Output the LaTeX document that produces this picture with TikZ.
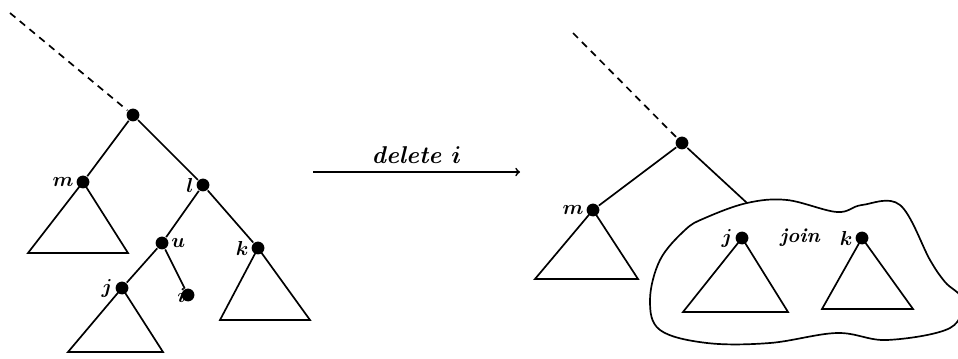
\documentclass[tikz,border=0pt]{standalone}
\usepackage{amsmath}
\usepackage{tikz}
\usetikzlibrary{shapes}

\tikzset{dot/.style={circle,fill=black,inner sep=0pt,minimum size=0.32cm},
  lab/.style={font=\bfseries\boldmath\itshape\Large,inner sep=1pt}}

\begin{document}
\begin{tikzpicture}[x=0.025cm,y=-0.025cm,line width=1.2pt]
        \useasboundingbox (0,0) rectangle (958,359);
        % before
        \coordinate (top1) at (10,13);
        \node[dot] (r1) at (133,115) {};
        \node[dot,label={[lab]left:{$m$}}] (m1) at (83,182) {};
        \node[dot,label={[lab]left:{$l$}}] (l1) at (203,185) {};
        \node[dot,label={[lab]right:{$u$}}] (u1) at (162,243) {};
        \node[dot,label={[lab]left:{$k$}}] (k1) at (258,248) {};
        \node[dot,label={[lab]left:{$j$}}] (j1) at (122,288) {};
        \node[dot,label={[lab,label distance=-5pt]left:{$i$}}] (i1) at (188,295) {};
        \draw[dashed,dash pattern=on 5pt off 4pt] (top1) -- (r1);
        \draw (r1) -- (m1);
        \draw (r1) -- (l1);
        \draw (l1) -- (u1);
        \draw (l1) -- (k1);
        \draw (u1) -- (j1);
        \draw (u1) -- (i1);
        \draw (m1.center) -- (28,253) -- (128,253) -- cycle;
        \draw (j1.center) -- (68,352) -- (163,352) -- cycle;
        \draw (k1.center) -- (220,320) -- (310,320) -- cycle;
        % arrow
        \coordinate (a1) at (313,172);
        \coordinate (a2) at (520,172);
        \draw[->] (a1) -- node[lab,above=4pt,font=\bfseries\boldmath\itshape\LARGE] {delete $i$} (a2);
        % after
        \coordinate (top2) at (573,33);
        \coordinate (jn) at (747,203);
        \node[dot] (r2) at (682,143) {};
        \node[dot,label={[lab]left:{$m$}}] (m2) at (593,210) {};
        \node[dot,label={[lab]left:{$j$}}] (j2) at (742,238) {};
        \node[dot,label={[lab]left:{$k$}}] (k2) at (862,238) {};
        \node[lab] (jw) at (800,238) {join};
        \draw[dashed,dash pattern=on 5pt off 4pt] (top2) -- (r2);
        \draw (r2) -- (m2);
        \draw (r2) -- (jn);
        \draw (m2.center) -- (535,279) -- (638,279) -- cycle;
        \draw (j2.center) -- (683,312) -- (788,312) -- cycle;
        \draw (k2.center) -- (822,309) -- (913,309) -- cycle;
        \draw plot[smooth cycle,tension=0.6] coordinates {(705,218) (747,203) (787,200) (837,212)
          (862,205) (900,205) (930,260) (945,282) (962,300) (950,328) (887,340) (837,333)
          (770,343) (707,343) (660,330) (650,300) (660,260) (685,230)};
\end{tikzpicture}
\end{document}
